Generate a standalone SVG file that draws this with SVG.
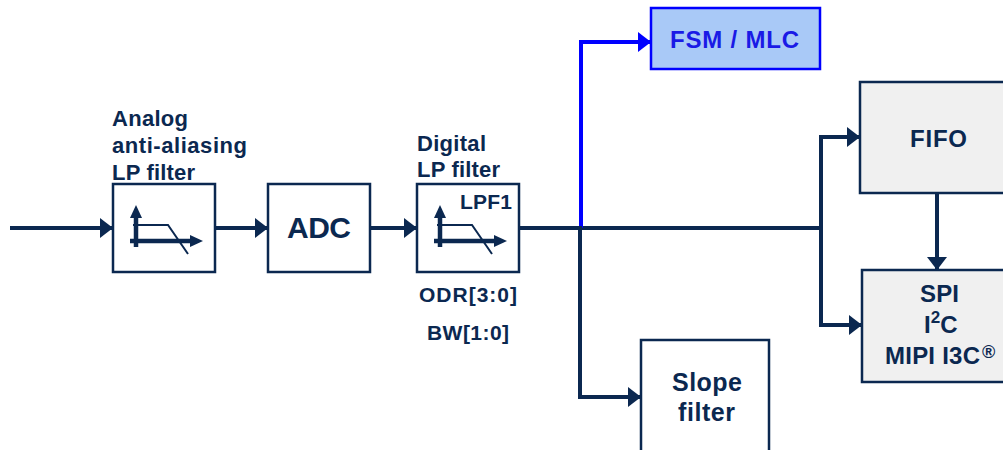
<svg xmlns="http://www.w3.org/2000/svg" width="1003" height="450" viewBox="0 0 1003 450">
<style>
.box{fill:#ffffff;stroke:#0b2850;stroke-width:2.5}
.gbox{fill:#f0f0f0;stroke:#0b2850;stroke-width:2.5}
.fsm{fill:#a9c9f7;stroke:#0000ff;stroke-width:2.5}
.t{font-family:"Liberation Sans",Arial,sans-serif;font-weight:bold;fill:#0b2850}
.w{fill:none;stroke:#0b2850;stroke-width:4}
.b{fill:none;stroke:#0000ff;stroke-width:4}
.ax{fill:none;stroke:#0b2850;stroke-width:4.5}
.cv{fill:none;stroke:#0b2850;stroke-width:2}
</style>
<defs>
<marker id="ah" markerUnits="userSpaceOnUse" markerWidth="13" markerHeight="20" refX="13" refY="10" orient="auto">
<path d="M0,0 L13,10 L0,20 z" fill="#0b2850"/>
</marker>
<marker id="ahb" markerUnits="userSpaceOnUse" markerWidth="13" markerHeight="20" refX="13" refY="10" orient="auto">
<path d="M0,0 L13,10 L0,20 z" fill="#0000ff"/>
</marker>
<g id="lpicon">
<path class="cv" d="M20,41 H55 L75,70"/>
<path class="ax" d="M23,63 V32"/>
<path d="M17,34 L23,21 L29,34 z" fill="#0b2850"/>
<path class="ax" d="M17,57 H78"/>
<path d="M77,51 L90,57 L77,63 z" fill="#0b2850"/>
</g>
</defs>

<g id="connectors">
<path class="w" d="M10,228 H113" marker-end="url(#ah)"/>
<path class="w" d="M215,228 H268" marker-end="url(#ah)"/>
<path class="w" d="M370,228 H417" marker-end="url(#ah)"/>
<path class="w" d="M519,228 H823"/>
<path class="b" d="M581,228 V42 H651" marker-end="url(#ahb)"/>
<path class="w" d="M580,226 V397 H641" marker-end="url(#ah)"/>
<path class="w" d="M821,137 V325"/>
<path class="w" d="M819,137 H860" marker-end="url(#ah)"/>
<path class="w" d="M819,325 H862" marker-end="url(#ah)"/>
<path class="w" d="M937,193 V270" marker-end="url(#ah)"/>
</g>

<g id="analog-filter">
<text class="t" x="112" y="126" font-size="22" textLength="76">Analog</text>
<text class="t" x="112" y="153" font-size="22" textLength="135">anti-aliasing</text>
<text class="t" x="112" y="180" font-size="22" textLength="83">LP filter</text>
<rect class="box" x="113" y="184" width="102" height="88"/>
<use href="#lpicon" x="113" y="184"/>
</g>

<g id="adc">
<rect class="box" x="268" y="184" width="102" height="88"/>
<text class="t" x="287" y="238" font-size="30" textLength="64">ADC</text>
</g>

<g id="digital-filter">
<text class="t" x="417" y="151" font-size="22" textLength="69">Digital</text>
<text class="t" x="417" y="177" font-size="22" textLength="83">LP filter</text>
<rect class="box" x="417" y="184" width="102" height="88"/>
<use href="#lpicon" x="417" y="184"/>
<text class="t" x="460" y="209" font-size="21" textLength="52">LPF1</text>
<text class="t" x="419" y="302" font-size="21" textLength="98">ODR[3:0]</text>
<text class="t" x="427" y="340" font-size="21" textLength="82">BW[1:0]</text>
</g>

<g id="fsm-mlc">
<rect class="fsm" x="651" y="8" width="169" height="61"/>
<text class="t" x="670" y="48" font-size="24" textLength="129" style="fill:#1a1ae6">FSM / MLC</text>
</g>

<g id="slope-filter">
<rect class="box" x="641" y="340" width="128" height="120"/>
<text class="t" x="672" y="391" font-size="25" textLength="70">Slope</text>
<text class="t" x="678" y="421" font-size="25" textLength="57">filter</text>
</g>

<g id="fifo">
<rect class="gbox" x="860" y="82" width="160" height="111"/>
<text class="t" x="910" y="147" font-size="24" textLength="57">FIFO</text>
</g>

<g id="interface">
<rect class="gbox" x="862" y="270" width="160" height="112"/>
<text class="t" x="920" y="302" font-size="24" textLength="39">SPI</text>
<text class="t" x="924" y="333" font-size="24">I<tspan font-size="17" dy="-10">2</tspan><tspan dy="10">C</tspan></text>
<text class="t" x="885" y="364" font-size="24" textLength="95">MIPI I3C</text>
<text class="t" x="982" y="358" font-size="18">®</text>
</g>
</svg>
